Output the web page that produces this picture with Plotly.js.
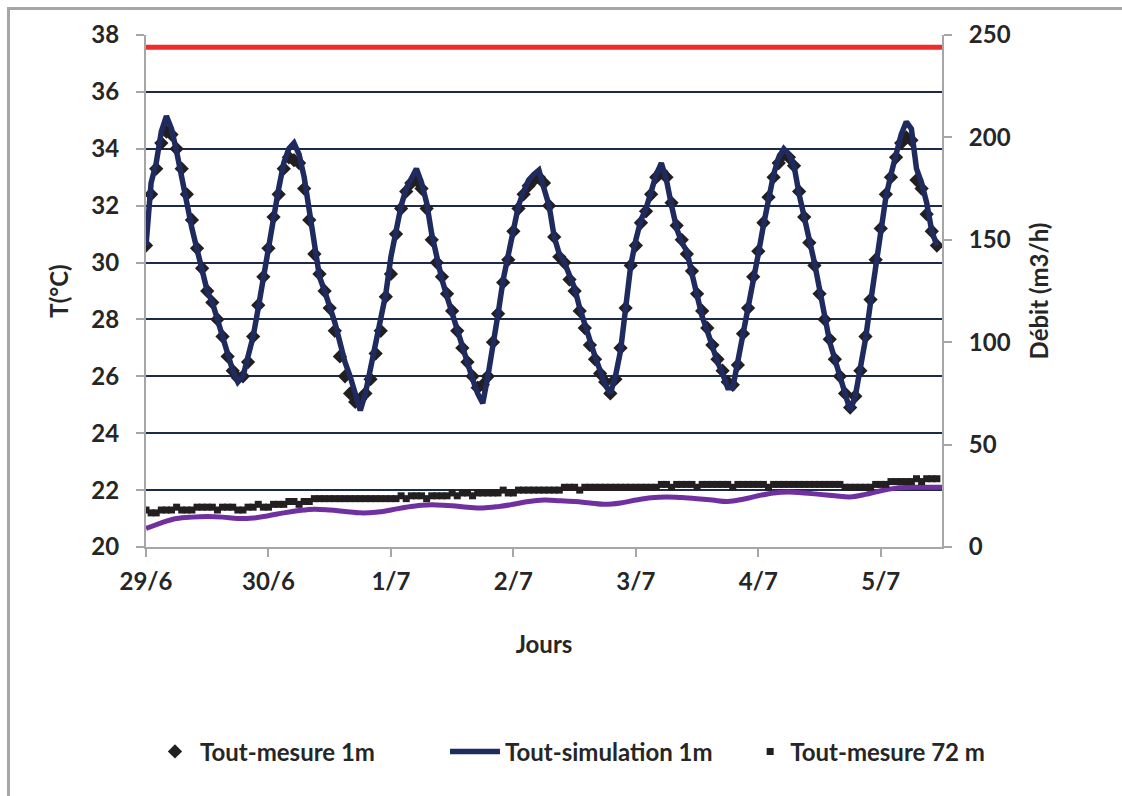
<!DOCTYPE html>
<html>
<head>
<meta charset="utf-8">
<script src="https://cdn.plot.ly/plotly-3.0.1.min.js"></script>
<style>
  html, body { margin: 0; padding: 0; background: #ffffff; overflow: hidden; }
  #chart { position: absolute; left: 0; top: 0; width: 1122px; height: 796px; }
  #frame { position: absolute; left: 7px; top: 7px; width: 1300px; height: 1000px;
           border-left: 3px solid #a6a6a6; border-top: 3px solid #a6a6a6; pointer-events: none; }
</style>
</head>
<body>
<div id="chart"></div>
<div id="frame"></div>
<script>
// Day tick labels (x axis in days since 29/6 00:00)
const dayTicks = [0, 1, 2, 3, 4, 5, 6];
const dayLabels = ['29/6', '30/6', '1/7', '2/7', '3/7', '4/7', '5/7'];

// Hourly series, starting 29/6 00:00
const simulation1m = [
  30.6, 32.8, 33.5, 34.6, 35.15, 34.7, 33.9, 33.1, 32.1, 31.2, 30.4, 29.7, 29.0, 28.6, 28.0, 27.4, 26.8, 26.2, 25.8, 26.0, 26.7, 27.4, 28.4, 29.5,
  30.3, 31.4, 32.6, 33.5, 34.0, 34.2, 33.8, 33.0, 31.9, 30.5, 29.5, 29.0, 28.5, 27.9, 27.2, 26.5, 26.0, 25.4, 24.8, 25.4, 26.3, 27.3, 28.0, 28.9,
  30.2, 31.2, 32.0, 32.6, 33.0, 33.3, 32.8, 32.1, 31.0, 30.1, 29.4, 28.8, 28.2, 27.6, 27.0, 26.4, 25.9, 25.4, 25.05, 26.0, 27.0, 28.2, 29.4, 30.3,
  31.3, 32.0, 32.5, 32.9, 33.1, 33.25, 32.6, 32.0, 30.9, 30.3, 30.0, 29.5, 29.1, 28.4, 27.8, 27.2, 26.7, 26.2, 25.7, 25.4, 26.0, 26.9, 28.4, 29.9,
  30.8, 31.5, 31.9, 32.5, 33.1, 33.5, 32.9, 32.0, 31.2, 30.7, 30.4, 29.6, 28.8, 28.1, 27.6, 27.0, 26.5, 26.1, 25.6, 25.6, 26.5, 27.5, 28.3, 29.4,
  30.3, 31.3, 32.3, 33.1, 33.7, 34.0, 33.8, 33.4, 32.4, 31.5, 30.8, 30.0, 29.0, 28.0, 27.2, 26.6, 26.0, 25.5, 24.8, 25.3, 26.3, 27.3, 28.6, 29.9,
  31.0, 32.3, 33.1, 33.9, 34.5, 34.95, 34.7, 33.3, 32.8, 32.1, 31.1, 30.6
];
const mesure1m = [
  30.6, 32.4, 33.3, 34.2, 34.6, 34.5, 34.0, 33.3, 32.4, 31.5, 30.5, 29.8, 29.0, 28.6, 28.0, 27.4, 26.7, 26.2, 25.95, 26.0, 26.5, 27.4, 28.5, 29.5,
  30.5, 31.6, 32.4, 33.3, 33.7, 33.6, 33.5, 32.6, 31.5, 30.3, 29.6, 29.0, 28.4, 27.6, 26.7, 26.0, 25.4, 25.1, 25.2, 25.4, 25.9, 26.8, 27.6, 28.8,
  29.6, 31.0, 31.9, 32.5, 32.8, 32.9, 32.6, 31.9, 30.8, 30.0, 29.5, 28.9, 28.3, 27.6, 27.0, 26.5, 26.0, 25.6, 25.7, 26.0, 27.2, 28.2, 29.3, 30.1,
  31.1, 31.9, 32.4, 32.7, 32.9, 33.0, 32.8, 32.0, 30.9, 30.2, 30.0, 29.4, 29.0, 28.3, 27.7, 27.1, 26.6, 26.1, 25.8, 25.4, 25.9, 27.0, 28.4, 29.9,
  30.6, 31.4, 31.8, 32.4, 33.0, 33.2, 33.0, 32.1, 31.3, 30.8, 30.3, 29.7, 28.9, 28.3, 27.7, 27.1, 26.6, 26.2, 25.8, 25.7, 26.4, 27.5, 28.4, 29.5,
  30.4, 31.4, 32.3, 33.0, 33.5, 33.8, 33.7, 33.4, 32.5, 31.6, 30.7, 29.9, 28.9, 28.0, 27.3, 26.6, 26.0, 25.4, 24.9, 25.3, 26.2, 27.4, 28.7, 30.1,
  31.2, 32.4, 33.0, 33.7, 34.2, 34.4, 34.3, 32.9, 32.6, 31.7, 31.1, 30.6
];
const mesure72m = [
  21.3, 21.2, 21.2, 21.3,
  21.3, 21.3, 21.4, 21.3, 21.3, 21.3, 21.4,
  21.4, 21.4, 21.4, 21.3, 21.4, 21.4, 21.4,
  21.3, 21.3,
  21.4, 21.4, 21.5, 21.4, 21.4, 21.5, 21.5,
  21.5, 21.6, 21.6, 21.5, 21.6, 21.6,
  21.7, 21.7, 21.7, 21.7, 21.7, 21.7, 21.7, 21.7, 21.7, 21.7, 21.7, 21.7, 21.7, 21.7, 21.7, 21.7, 21.7,
  21.8, 21.7, 21.8, 21.8, 21.8, 21.7, 21.8, 21.8, 21.8, 21.8,
  21.9, 21.8, 21.9, 21.9, 21.8, 21.9, 21.9, 21.9,
  21.9, 21.9, 22.0, 21.9, 21.9,
  22.0, 22.0, 22.0, 22.0, 22.0, 22.0, 22.0, 22.0, 22.0,
  22.1, 22.1, 22.1, 22.0, 22.1, 22.1, 22.1, 22.1, 22.1, 22.1, 22.1, 22.1, 22.1, 22.1, 22.1, 22.1, 22.1, 22.1, 22.1,
  22.2, 22.2, 22.1, 22.2, 22.2, 22.2, 22.2, 22.1, 22.2, 22.2, 22.2, 22.2, 22.2, 22.2, 22.1, 22.2, 22.2, 22.2, 22.2, 22.2, 22.2, 22.1, 22.2, 22.2, 22.2, 22.2, 22.2, 22.2, 22.2,
  22.2, 22.2, 22.2, 22.2, 22.2, 22.2, 22.2,
  22.1, 22.1, 22.1, 22.1, 22.1, 22.1,
  22.2, 22.2, 22.2,
  22.3, 22.3, 22.3, 22.3, 22.3,
  22.4, 22.3, 22.4, 22.4, 22.4
];
// 3-hourly simulation at 72 m
const simulation72m = [
  20.65, 20.85, 21.0, 21.05, 21.07, 21.05, 21.0, 21.02,
  21.1, 21.2, 21.28, 21.33, 21.3, 21.25, 21.2, 21.22,
  21.3, 21.4, 21.47, 21.48, 21.45, 21.4, 21.37, 21.42,
  21.5, 21.6, 21.65, 21.63, 21.6, 21.55, 21.5, 21.55,
  21.65, 21.73, 21.76, 21.74, 21.7, 21.65, 21.6, 21.68,
  21.8, 21.9, 21.93, 21.9, 21.85, 21.8, 21.76, 21.85,
  21.98, 22.07, 22.1, 22.1, 22.1
];
// Flow rate (m3/h), right axis
const debitDays = [0, 1, 2, 3, 4, 5, 6, 6.5];
const debitValues = [244, 244, 244, 244, 244, 244, 244, 244];

const hourlyDays = mesure1m.map((_, i) => i / 24);
const threeHourDays = simulation72m.map((_, i) => i * 3 / 24);

const FONT = 'Lato, "Open Sans", sans-serif';
const TXT = '#262626';
const AXC = '#a6a6a6';
const FS = 24;
const boldFont = { family: FONT, size: FS, weight: 'bold', color: TXT };

const traces = [
  { x: debitDays, y: debitValues, yaxis: 'y2', mode: 'lines', name: 'Débit',
    line: { color: '#ef2b2d', width: 5 }, showlegend: false },
  { x: threeHourDays, y: simulation72m, mode: 'lines', name: 'Tout-simulation 72 m',
    line: { color: '#7030a0', width: 5, shape: 'spline', smoothing: 1 }, showlegend: false },
  { x: hourlyDays, y: mesure72m, mode: 'markers', name: 'Tout-mesure 72 m', legend: 'legend3',
    marker: { symbol: 'square', size: 7, color: '#231f20' } },
  { x: hourlyDays, y: mesure1m, mode: 'markers', name: 'Tout-mesure 1m', legend: 'legend',
    marker: { symbol: 'diamond', size: 11, color: '#231f20' } },
  { x: hourlyDays, y: simulation1m, mode: 'lines', name: 'Tout-simulation 1m', legend: 'legend2',
    line: { color: '#1f2a5f', width: 5.5 } }
];

const layout = {
  width: 1122, height: 796,
  margin: { l: 146, r: 180, t: 35, b: 249 },
  paper_bgcolor: '#ffffff', plot_bgcolor: '#ffffff',
  font: boldFont,
  xaxis: {
    range: [0, 6.5], tickvals: dayTicks, ticktext: dayLabels,
    showline: true, linecolor: AXC, linewidth: 2,
    ticks: 'outside', ticklen: 8, tickwidth: 2, tickcolor: AXC,
    showgrid: false, zeroline: false,
    tickfont: boldFont,
    ticklabelstandoff: 4,
    title: { text: 'Jours', font: boldFont, standoff: 42 }
  },
  yaxis: {
    range: [20, 38], dtick: 2, tick0: 20,
    showline: true, linecolor: AXC, linewidth: 2,
    ticks: 'outside', ticklen: 8, tickwidth: 2, tickcolor: AXC,
    showgrid: true, gridcolor: '#1c2b4a', gridwidth: 2, zeroline: false,
    tickfont: boldFont,
    ticklabelstandoff: 12,
    title: { text: 'T(°C)', font: boldFont, standoff: 16 }
  },
  yaxis2: {
    overlaying: 'y', side: 'right', range: [0, 250], dtick: 50, tick0: 0,
    showline: true, linecolor: AXC, linewidth: 2,
    ticks: 'outside', ticklen: 8, tickwidth: 2, tickcolor: AXC,
    showgrid: false, zeroline: false,
    tickfont: boldFont,
    ticklabelstandoff: 12,
    title: { text: 'Débit (m3/h)', font: boldFont, standoff: 22 }
  },
  legend: { x: 0.005, y: -0.40, xanchor: 'left', yanchor: 'middle', orientation: 'h',
            itemwidth: 40, font: boldFont, bgcolor: 'rgba(0,0,0,0)' },
  legend2: { x: 0.3756, y: -0.40, xanchor: 'left', yanchor: 'middle', orientation: 'h',
             itemwidth: 50, font: boldFont, bgcolor: 'rgba(0,0,0,0)' },
  legend3: { x: 0.759, y: -0.40, xanchor: 'left', yanchor: 'middle', orientation: 'h',
             font: boldFont, bgcolor: 'rgba(0,0,0,0)' },
  showlegend: true
};

Plotly.newPlot('chart', traces, layout, { displayModeBar: false, staticPlot: true });
</script>
</body>
</html>
